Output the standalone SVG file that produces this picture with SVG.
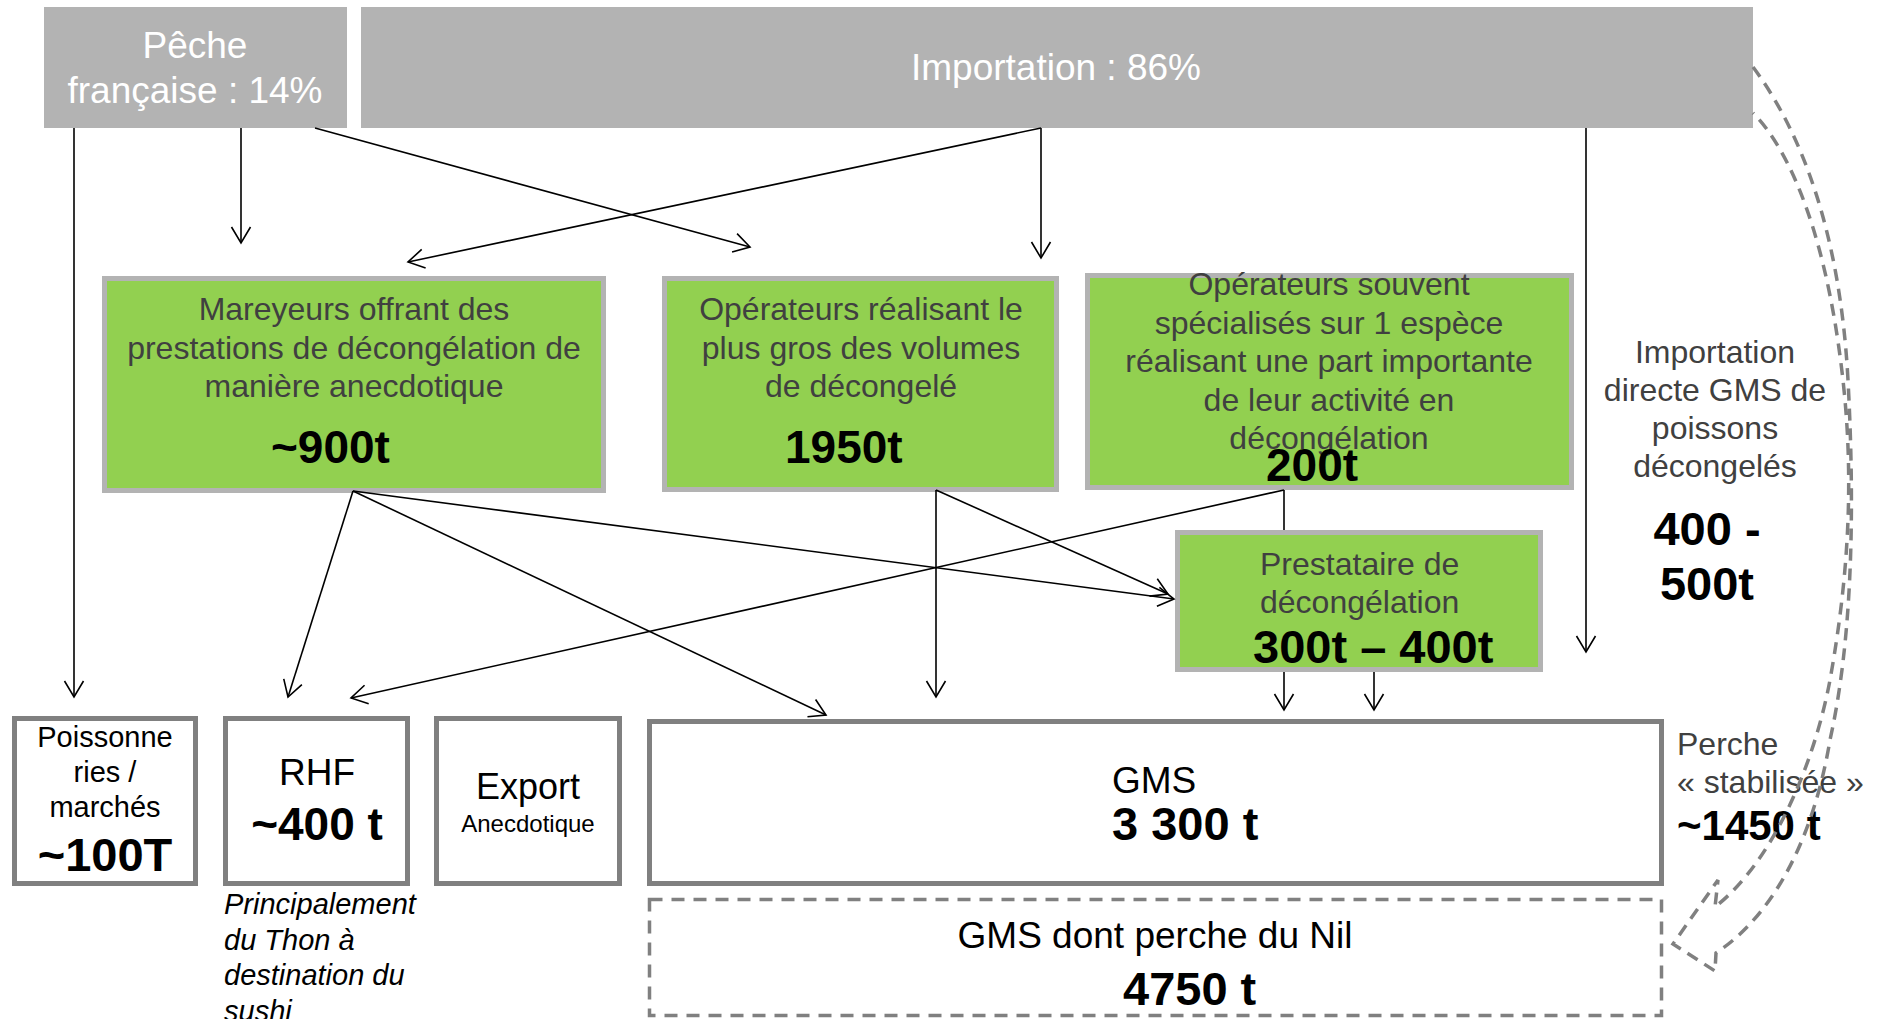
<svg xmlns="http://www.w3.org/2000/svg" width="1878" height="1019" viewBox="0 0 1878 1019">
<defs>
<marker id="arr" viewBox="-18 -11 20 22" markerWidth="20" markerHeight="22" refX="0" refY="0" orient="auto" markerUnits="userSpaceOnUse">
<path d="M-16,-9.5 L0,0 L-16,9.5" fill="none" stroke="#000" stroke-width="1.6"/>
</marker>
</defs>
<style>
text{font-family:"Liberation Sans",Arial,sans-serif}
.src{fill:#b3b3b3}
.srct{fill:#fff;font-size:37px;text-anchor:middle}
.grn{fill:#92d050;stroke:#b3b3b3;stroke-width:5}
.gt{fill:#404040;font-size:32px;text-anchor:middle}
.gl{fill:#404040;font-size:32px}
.amt{fill:#000;font-size:46px;font-weight:bold}
.out{fill:#fff;stroke:#808080;stroke-width:5}
.bt{fill:#000;text-anchor:middle}
.con{stroke:#000;stroke-width:1.6;fill:none}
.arw{marker-end:url(#arr)}
.dash{fill:none;stroke:#808080;stroke-width:3.5;stroke-dasharray:12 8}
.note{fill:#404040;font-size:32px}
</style>

<g id="peche">
<rect class="src" x="44" y="7" width="303" height="121"/>
<text class="srct" x="195" y="58">Pêche</text>
<text class="srct" x="195" y="103">française : 14%</text>
</g>

<g id="importation">
<rect class="src" x="361" y="7" width="1392" height="121"/>
<text class="srct" x="1056" y="80">Importation : 86%</text>
</g>

<g id="mareyeurs">
<rect class="grn" x="104.5" y="278.5" width="499" height="212"/>
<text class="gt" x="354" y="320">Mareyeurs offrant des</text>
<text class="gt" x="354" y="359">prestations de décongélation de</text>
<text class="gt" x="354" y="397">manière anecdotique</text>
<text class="amt" x="271" y="463">~900t</text>
</g>

<g id="operateurs-gros">
<rect class="grn" x="664.5" y="278.5" width="392" height="211"/>
<text class="gt" x="861" y="320">Opérateurs réalisant le</text>
<text class="gt" x="861" y="359">plus gros des volumes</text>
<text class="gt" x="861" y="397">de décongelé</text>
<text class="amt" x="785" y="463">1950t</text>
</g>

<g id="operateurs-specialises">
<rect class="grn" x="1087.5" y="275.5" width="484" height="212"/>
<text class="gt" x="1329" y="295">Opérateurs souvent</text>
<text class="gt" x="1329" y="334">spécialisés sur 1 espèce</text>
<text class="gt" x="1329" y="372">réalisant une part importante</text>
<text class="gt" x="1329" y="411">de leur activité en</text>
<text class="gt" x="1329" y="449">décongélation</text>
<text class="amt" x="1266" y="481">200t</text>
</g>

<g id="prestataire">
<rect class="grn" x="1177.5" y="532.5" width="363" height="137"/>
<text class="gl" x="1260" y="575">Prestataire de</text>
<text class="gl" x="1260" y="613">décongélation</text>
<text class="amt" x="1253" y="663" style="font-size:47px">300t – 400t</text>
</g>

<g id="importation-directe">
<text class="note" x="1715" y="363" text-anchor="middle">Importation</text>
<text class="note" x="1715" y="401" text-anchor="middle">directe GMS de</text>
<text class="note" x="1715" y="439" text-anchor="middle">poissons</text>
<text class="note" x="1715" y="477" text-anchor="middle">décongelés</text>
<text class="amt" x="1707" y="545" text-anchor="middle" style="font-size:47px">400 -</text>
<text class="amt" x="1707" y="600" text-anchor="middle" style="font-size:47px">500t</text>
</g>

<g id="poissonneries">
<rect class="out" x="14.5" y="718.5" width="181" height="165"/>
<text class="bt" x="105" y="747" style="font-size:29px">Poissonne</text>
<text class="bt" x="105" y="782" style="font-size:29px">ries /</text>
<text class="bt" x="105" y="817" style="font-size:29px">marchés</text>
<text class="bt" x="105" y="871" style="font-size:47px;font-weight:bold">~100T</text>
</g>

<g id="rhf">
<rect class="out" x="225.5" y="718.5" width="182" height="165"/>
<text class="bt" x="317" y="785" style="font-size:37px">RHF</text>
<text class="bt" x="317" y="840" style="font-size:46px;font-weight:bold">~400 t</text>
<text x="224" y="914" style="font-size:29px;font-style:italic" fill="#000">Principalement</text>
<text x="224" y="949.5" style="font-size:29px;font-style:italic" fill="#000">du Thon à</text>
<text x="224" y="985" style="font-size:29px;font-style:italic" fill="#000">destination du</text>
<text x="224" y="1020.5" style="font-size:29px;font-style:italic" fill="#000">sushi</text>
</g>

<g id="export">
<rect class="out" x="436.5" y="718.5" width="183" height="165"/>
<text class="bt" x="528" y="799" style="font-size:36px">Export</text>
<text class="bt" x="528" y="832" style="font-size:24px">Anecdotique</text>
</g>

<g id="gms">
<rect class="out" x="649.5" y="721.5" width="1012" height="162"/>
<text x="1112" y="793" style="font-size:37px" fill="#000">GMS</text>
<text x="1112" y="840" style="font-size:47px;font-weight:bold" fill="#000">3 300 t</text>
</g>

<g id="gms-perche">
<rect x="649.5" y="899.5" width="1012" height="116" fill="none" stroke="#808080" stroke-width="3.5" stroke-dasharray="13 9"/>
<text class="bt" x="1155" y="948" style="font-size:37px">GMS dont perche du Nil</text>
<text x="1123" y="1005" style="font-size:47px;font-weight:bold" fill="#000">4750 t</text>
</g>

<g id="perche-stabilisee">
<text class="note" x="1677" y="755">Perche</text>
<text class="note" x="1677" y="793">« stabilisée »</text>
<text class="amt" x="1677" y="840" style="font-size:42px">~1450 t</text>
</g>

<g id="connectors">
<line class="con arw" x1="74" y1="128" x2="74" y2="697"/>
<line class="con arw" x1="241" y1="128" x2="241" y2="243"/>
<line class="con arw" x1="315" y1="128" x2="750" y2="247"/>
<line class="con arw" x1="1041" y1="128" x2="408" y2="262"/>
<line class="con arw" x1="1041" y1="128" x2="1041" y2="258"/>
<line class="con arw" x1="1586" y1="128" x2="1586" y2="652"/>
<line class="con arw" x1="353" y1="491" x2="288" y2="697"/>
<line class="con arw" x1="353" y1="491" x2="826" y2="715"/>
<line class="con arw" x1="353" y1="491" x2="1174" y2="599"/>
<line class="con arw" x1="936" y1="490" x2="936" y2="697"/>
<line class="con arw" x1="936" y1="490" x2="1168" y2="594"/>
<line class="con" x1="1284" y1="490" x2="1284" y2="530"/>
<line class="con arw" x1="1284" y1="490" x2="351" y2="698"/>
<line class="con arw" x1="1284" y1="672" x2="1284" y2="710"/>
<line class="con arw" x1="1374" y1="672" x2="1374" y2="710"/>
<path class="dash" d="M1753,67 C1800,130 1840,230 1848,380 C1856,530 1850,650 1830,740 C1815,830 1778,912 1716,953 L1715,971 L1673,944 L1718,880 L1715,907 C1775,860 1815,760 1830,680 C1848,580 1853,490 1845,400 C1830,240 1790,150 1753,113"/>
</g>
</svg>
